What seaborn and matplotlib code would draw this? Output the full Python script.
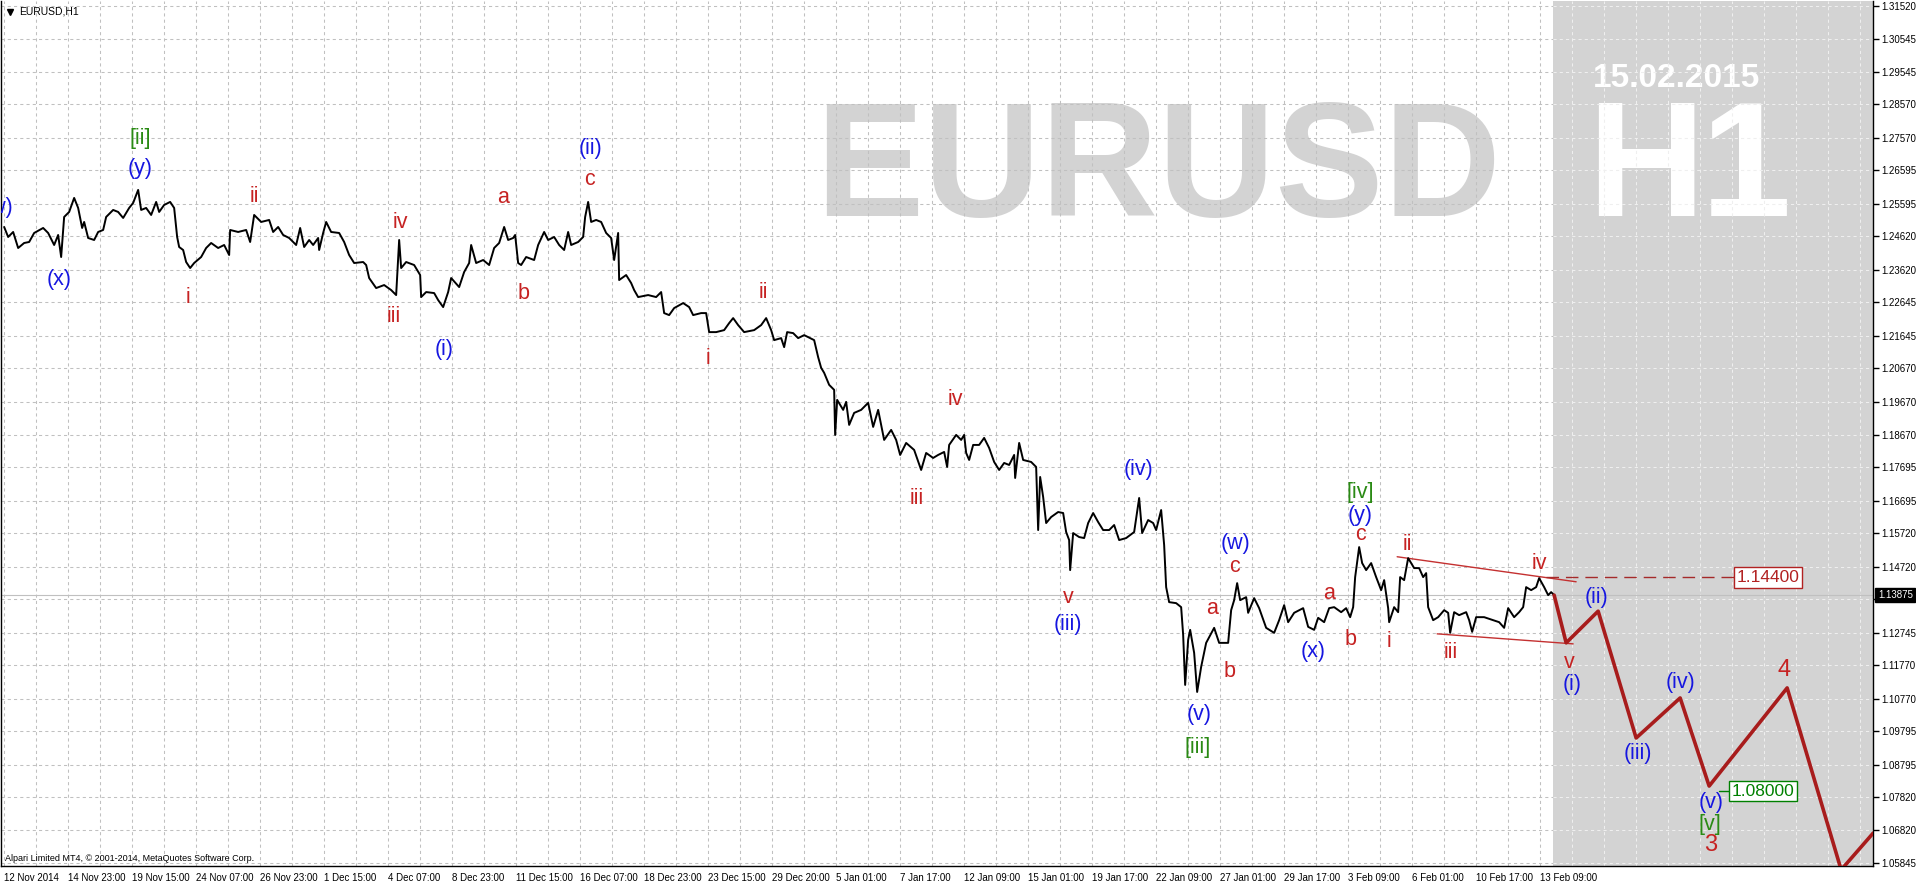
import numpy as np
import pandas as pd
import matplotlib
matplotlib.use("Agg")
import matplotlib.pyplot as plt
import matplotlib.transforms as mtransforms
import seaborn as sns

#%% data (bar position, price)
bar_x = [3, 7, 12, 17, 23, 28, 33, 42, 47, 53, 57, 60, 63, 68, 73, 77, 81, 83, 87, 93,
         97, 102, 105, 112, 117, 122, 128, 132, 137, 140, 145, 150, 155, 158, 163, 169, 173, 176, 178, 182,
         185, 189, 193, 200, 205, 210, 217, 223, 228, 229, 237, 245, 249, 253, 260, 268, 272, 277, 282, 288,
         295, 299, 303, 308, 312, 317, 318, 322, 325, 330, 338, 343, 348, 353, 362, 365, 368, 375, 383, 390,
         395, 398, 400, 405, 413, 419, 420, 425, 433, 437, 442, 447, 450, 458, 463, 468, 470, 475, 482, 488,
         493, 498, 503, 507, 512, 514, 517, 520, 525, 533, 537, 543, 547, 553, 558, 563, 567, 570, 577, 582,
         584, 587, 590, 595, 600, 605, 610, 613, 617, 618, 625, 630, 633, 637, 647, 655, 660, 663, 668, 673,
         682, 688, 692, 700, 705, 708, 715, 723, 728, 732, 737, 743, 753, 760, 765, 770, 773, 780, 783, 786,
         792, 797, 803, 813, 817, 820, 823, 828, 833, 834, 836, 842, 845, 848, 853, 860, 867, 872, 877, 883,
         890, 895, 899, 905, 913, 920, 925, 932, 937, 943, 946, 948, 955, 960, 963, 965, 968, 972, 978, 983,
         988, 993, 998, 1003, 1008, 1013, 1014, 1018, 1022, 1030, 1035, 1037, 1039, 1042, 1045, 1050, 1057, 1062, 1065, 1068,
         1069, 1072, 1078, 1083, 1087, 1092, 1097, 1102, 1108, 1113, 1118, 1125, 1133, 1138, 1141, 1147, 1152, 1155, 1160, 1163,
         1165, 1168, 1175, 1180, 1182, 1184, 1187, 1189, 1193, 1196, 1200, 1205, 1213, 1218, 1227, 1230, 1233, 1236, 1239, 1245,
         1247, 1253, 1258, 1265, 1273, 1278, 1283, 1287, 1293, 1302, 1307, 1313, 1317, 1323, 1328, 1333, 1340, 1345, 1349, 1352,
         1354, 1358, 1361, 1365, 1370, 1375, 1380, 1383, 1387, 1388, 1393, 1397, 1399, 1403, 1407, 1413, 1418, 1422, 1425, 1427,
         1432, 1437, 1443, 1447, 1449, 1453, 1458, 1465, 1468, 1471, 1475, 1483, 1492, 1498, 1503, 1507, 1513, 1518, 1522, 1525,
         1530, 1535, 1538, 1543, 1547, 1550, 1553]
close = [1.2490, 1.2460, 1.2475, 1.2427, 1.2442, 1.2445, 1.2472, 1.2487, 1.2472, 1.2436, 1.2466, 1.2400, 1.2520, 1.2535, 1.2577, 1.2547, 1.2487, 1.2505, 1.2457, 1.2451,
         1.2475, 1.2481, 1.2520, 1.2541, 1.2535, 1.2517, 1.2547, 1.2562, 1.2601, 1.2541, 1.2547, 1.2526, 1.2565, 1.2535, 1.2556, 1.2565, 1.2547, 1.2460, 1.2430, 1.2421,
         1.2385, 1.2367, 1.2382, 1.2400, 1.2427, 1.2442, 1.2427, 1.2436, 1.2406, 1.2481, 1.2475, 1.2481, 1.2445, 1.2526, 1.2505, 1.2511, 1.2475, 1.2490, 1.2466, 1.2457,
         1.2436, 1.2487, 1.2430, 1.2451, 1.2436, 1.2457, 1.2421, 1.2472, 1.2505, 1.2475, 1.2472, 1.2445, 1.2406, 1.2382, 1.2385, 1.2376, 1.2337, 1.2307, 1.2316, 1.2301,
         1.2286, 1.2451, 1.2367, 1.2385, 1.2376, 1.2346, 1.2280, 1.2295, 1.2292, 1.2271, 1.2250, 1.2295, 1.2337, 1.2310, 1.2355, 1.2382, 1.2436, 1.2382, 1.2391, 1.2376,
         1.2427, 1.2442, 1.2490, 1.2451, 1.2457, 1.2466, 1.2382, 1.2376, 1.2400, 1.2391, 1.2436, 1.2475, 1.2451, 1.2460, 1.2436, 1.2421, 1.2475, 1.2436, 1.2445, 1.2460,
         1.2520, 1.2565, 1.2505, 1.2511, 1.2505, 1.2472, 1.2457, 1.2391, 1.2472, 1.2331, 1.2346, 1.2322, 1.2301, 1.2280, 1.2286, 1.2280, 1.2295, 1.2232, 1.2226, 1.2247,
         1.2262, 1.2250, 1.2226, 1.2232, 1.2232, 1.2175, 1.2175, 1.2181, 1.2202, 1.2217, 1.2196, 1.2175, 1.2181, 1.2196, 1.2217, 1.2181, 1.2151, 1.2157, 1.2130, 1.2175,
         1.2172, 1.2157, 1.2166, 1.2151, 1.2100, 1.2068, 1.2053, 1.2017, 1.2002, 1.1867, 1.1972, 1.1942, 1.1966, 1.1897, 1.1933, 1.1942, 1.1963, 1.1891, 1.1942, 1.1852,
         1.1882, 1.1852, 1.1807, 1.1843, 1.1822, 1.1762, 1.1813, 1.1798, 1.1807, 1.1816, 1.1771, 1.1837, 1.1867, 1.1852, 1.1867, 1.1813, 1.1792, 1.1837, 1.1837, 1.1858,
         1.1828, 1.1786, 1.1762, 1.1783, 1.1777, 1.1807, 1.1738, 1.1843, 1.1792, 1.1786, 1.1771, 1.1582, 1.1741, 1.1681, 1.1603, 1.1621, 1.1636, 1.1633, 1.1576, 1.1552,
         1.1462, 1.1573, 1.1561, 1.1558, 1.1603, 1.1633, 1.1606, 1.1582, 1.1582, 1.1597, 1.1552, 1.1558, 1.1576, 1.1678, 1.1573, 1.1612, 1.1603, 1.1582, 1.1642, 1.1537,
         1.1411, 1.1366, 1.1363, 1.1351, 1.1268, 1.1118, 1.1253, 1.1283, 1.1214, 1.1097, 1.1172, 1.1244, 1.1289, 1.1244, 1.1244, 1.1342, 1.1372, 1.1423, 1.1372, 1.1381,
         1.1334, 1.1378, 1.1348, 1.1289, 1.1274, 1.1312, 1.1357, 1.1306, 1.1334, 1.1348, 1.1292, 1.1283, 1.1319, 1.1306, 1.1348, 1.1351, 1.1336, 1.1348, 1.1321, 1.1351,
         1.1441, 1.1531, 1.1483, 1.1462, 1.1483, 1.1441, 1.1402, 1.1432, 1.1348, 1.1306, 1.1351, 1.1336, 1.1441, 1.1432, 1.1498, 1.1468, 1.1468, 1.1441, 1.1453, 1.1351,
         1.1312, 1.1321, 1.1342, 1.1334, 1.1274, 1.1336, 1.1327, 1.1336, 1.1312, 1.1277, 1.1321, 1.1321, 1.1312, 1.1306, 1.1289, 1.1348, 1.1321, 1.1336, 1.1351, 1.1411,
         1.1402, 1.1411, 1.1438, 1.1411, 1.1387, 1.1396, 1.1387]

# forecast path (thick red) and the triangle lines
fc_x = [1553, 1565, 1597, 1635, 1679, 1708, 1786, 1840, 1872]
fc_y = [1.1387, 1.1244, 1.1339, 1.0959, 1.1079, 1.0815, 1.1109, 1.0564, 1.0674]
up_x = [1396, 1575]
up_y = [1.1502, 1.1427]
lo_x = [1436, 1572]
lo_y = [1.1271, 1.1241]

bid = 1.13875
level_hi = 1.14400
level_lo = 1.08000

yticks = [1.31520, 1.30545, 1.29545, 1.28570, 1.27570, 1.26595, 1.25595, 1.24620, 1.23620,
          1.22645, 1.21645, 1.20670, 1.19670, 1.18670, 1.17695, 1.16695, 1.15720, 1.14720,
          1.13745, 1.12745, 1.11770, 1.10770, 1.09795, 1.08795, 1.07820, 1.06820, 1.05845]
xtick_labels = ['12 Nov 2014', '14 Nov 23:00', '19 Nov 15:00', '24 Nov 07:00', '26 Nov 23:00',
                '1 Dec 15:00', '4 Dec 07:00', '8 Dec 23:00', '11 Dec 15:00', '16 Dec 07:00',
                '18 Dec 23:00', '23 Dec 15:00', '29 Dec 20:00', '5 Jan 01:00', '7 Jan 17:00',
                '12 Jan 09:00', '15 Jan 01:00', '19 Jan 17:00', '22 Jan 09:00', '27 Jan 01:00',
                '29 Jan 17:00', '3 Feb 09:00', '6 Feb 01:00', '10 Feb 17:00', '13 Feb 09:00']

# elliott wave labels : text, bar, price, colour group
wave_txt = ['(w)', '(x)', '(y)', '[ii]', 'i', 'ii', 'iii', 'iv', '(i)', 'a', 'b', 'c', '(ii)',
            'i', 'ii', 'iii', 'iv', 'v', '(iii)', '(iv)', '(v)', '[iii]', 'a', 'b', 'c', '(w)',
            '(x)', 'a', 'b', 'c', '(y)', '[iv]', 'i', 'ii', 'iii', 'iv', 'v', '(i)', '(ii)',
            '(iii)', '(iv)', '(v)', '[v]', '3', '4']
wave_x = [-3, 58, 139, 139, 187, 253, 393, 399, 443, 502, 522, 588, 589,
          707, 762, 916, 954, 1067, 1067, 1137, 1198, 1196, 1211, 1228, 1233, 1234,
          1312, 1328, 1349, 1359, 1359, 1359, 1388, 1406, 1450, 1538, 1568, 1571, 1595,
          1637, 1679, 1710, 1709, 1709, 1783]
wave_y = [1.2547, 1.2334, 1.2664, 1.2754, 1.2280, 1.2580, 1.2223, 1.2502, 1.2124, 1.2577, 1.2292, 1.2631, 1.2724,
          1.2097, 1.2295, 1.1678, 1.1972, 1.1381, 1.1298, 1.1762, 1.1028, 1.0932, 1.1346, 1.1157, 1.1474, 1.1543,
          1.1217, 1.1393, 1.1253, 1.1570, 1.1627, 1.1693, 1.1247, 1.1540, 1.1214, 1.1483, 1.1184, 1.1118, 1.1381,
          1.0914, 1.1124, 1.0767, 1.0701, 1.0638, 1.1163]
wave_grp = ['b', 'b', 'b', 'g', 'r', 'r', 'r', 'r', 'b', 'r', 'r', 'r', 'b',
            'r', 'r', 'r', 'r', 'r', 'b', 'b', 'b', 'g', 'r', 'r', 'r', 'b',
            'b', 'r', 'r', 'r', 'b', 'g', 'r', 'r', 'r', 'r', 'r', 'b', 'b',
            'b', 'b', 'b', 'g', 'r', 'r']
colors = {'r': '#c62222', 'b': '#1616e0', 'g': '#2a8a14'}

df = pd.DataFrame({'bar': bar_x, 'price': close})
df_fc = pd.DataFrame({'bar': fc_x, 'price': fc_y})

#%% figure
sns.set_style("white")
plt.rcParams['font.family'] = ['Liberation Sans', 'DejaVu Sans']

fig = plt.figure(figsize=(19.16, 8.84), dpi=100)
ax = fig.add_axes([0.0006, 18 / 884, 1872 / 1916, 865 / 884])
ymin, ymax = 1.05755, 1.31670
xmax = 1872
shade_x = 1552
ax.set_xlim(0, xmax)
ax.set_ylim(ymin, ymax)

# shaded future zone + watermark
ax.axvspan(shade_x, xmax, color='#d3d3d3', zorder=0.1, lw=0)
ax.text(814, 1.2523, 'EURUSD', fontsize=117, fontweight='bold', color='#d3d3d3',
        ha='left', va='baseline', zorder=0.2)
ax.text(1586, 1.2523, 'H', fontsize=117, fontweight='bold', color='white',
        ha='left', va='baseline', zorder=0.2)
ax.text(1700, 1.2523, '1', fontsize=117, fontweight='bold', color='white',
        ha='left', va='baseline', zorder=0.2)
ax.text(1592, 1.2909, '15.02.2015', fontsize=24, fontweight='bold', color='white',
        ha='left', va='baseline', zorder=0.2)

# grid, dark on white part and light on the shaded part
gx = np.arange(3, xmax, 32)
dash = (0, (3, 3))
ax.hlines(yticks, 0, shade_x, colors='#c0c0c0', linestyles=dash, lw=0.75, zorder=0.5)
ax.hlines(yticks, shade_x, xmax, colors='#efefef', linestyles=dash, lw=0.75, zorder=0.5)
ax.vlines(gx[gx < shade_x], ymin, ymax, colors='#c0c0c0', linestyles=dash, lw=0.75, zorder=0.5)
ax.vlines(gx[gx > shade_x], ymin, ymax, colors='#efefef', linestyles=dash, lw=0.75, zorder=0.5)
ax.axhline(bid, color='#c0c0c0', lw=0.8, zorder=0.6)

# price
sns.lineplot(data=df, x='bar', y='price', color='black', lw=1.4, sort=False,
             estimator=None, ax=ax, zorder=3)

# triangle and forecast
ax.plot(up_x, up_y, color='#c43030', lw=1.0, zorder=2)
ax.plot(lo_x, lo_y, color='#c43030', lw=1.0, zorder=2)
sns.lineplot(data=df_fc, x='bar', y='price', color='#a81c1c', lw=2.6, sort=False,
             estimator=None, ax=ax, zorder=4)

# price levels
ax.plot([1545, 1735], [level_hi, level_hi], color='#a52a2a', lw=1.0,
        linestyle=(0, (9, 5)), zorder=2)
ax.text(1767, level_hi, f'{level_hi:.5f}', fontsize=12.5, color='#b22222', ha='center',
        va='center', zorder=6,
        bbox=dict(boxstyle='square,pad=0.15', fc='white', ec='#b22222', lw=1))
ax.plot([1718, 1730], [level_lo, level_lo], color='#008000', lw=1.0, zorder=2)
ax.text(1762, level_lo, f'{level_lo:.5f}', fontsize=12.5, color='#008000', ha='center',
        va='center', zorder=6,
        bbox=dict(boxstyle='square,pad=0.15', fc='white', ec='#008000', lw=1))

# wave labels
for t, x, y, g in zip(wave_txt, wave_x, wave_y, wave_grp):
    size = 17 if t in ('3', '4') else 15.5
    ax.text(x, y, t, fontsize=size, color=colors[g], ha='center', va='center',
            zorder=5, clip_on=True)

# axes look (MT4 style)
for s in ['left', 'bottom', 'right']:
    ax.spines[s].set_color('black')
    ax.spines[s].set_linewidth(1)
ax.spines['top'].set_visible(False)
ax.set_xlabel('')
ax.set_ylabel('')

ax.yaxis.tick_right()
ax.set_yticks(yticks)
ax.set_yticklabels([f'{v:.5f}' for v in yticks])
ax.tick_params(axis='y', length=4, width=1, pad=2, labelsize=7, direction='out', colors='black')

ax.set_xticks(np.arange(len(xtick_labels)) * 64 + 3)
ax.set_xticklabels(xtick_labels)
ax.tick_params(axis='x', length=4, width=1, pad=1, labelsize=7, direction='out', colors='black')
plt.setp(ax.get_xticklabels(), ha='left')

# current bid box on the price scale
blend = mtransforms.blended_transform_factory(ax.transAxes, ax.transData)
ax.text(1.0025, bid, f'{bid:.5f}', transform=blend, fontsize=7, color='white',
        ha='left', va='center', zorder=10, clip_on=False,
        bbox=dict(boxstyle='square,pad=0.25', fc='black', ec='black'))

# header and footer
ax.plot([0.0048], [0.9875], marker='v', color='black', markersize=4, transform=ax.transAxes,
        clip_on=False)
ax.text(0.0095, 0.9875, 'EURUSD,H1', transform=ax.transAxes, fontsize=7.5, color='black',
        ha='left', va='center')
ax.text(0.002, 0.009, 'Alpari Limited MT4, © 2001-2014, MetaQuotes Software Corp.',
        transform=ax.transAxes, fontsize=6.5, color='black', ha='left', va='center')

fig.savefig('out.png', dpi=100)
